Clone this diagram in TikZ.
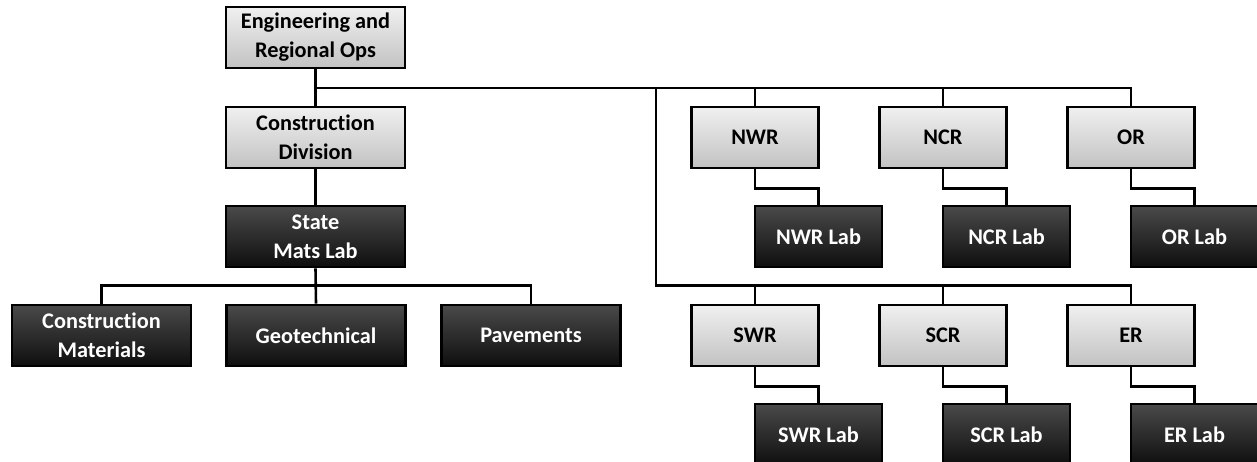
\documentclass[tikz,border=0pt]{standalone}
\usepackage{fontspec}
\setmainfont{Carlito}[Ligatures=NoCommon]
\definecolor{lightTop}{HTML}{F0F0F0}
\definecolor{lightBot}{HTML}{C2C2C2}
\definecolor{darkTop}{HTML}{4A4A4A}
\definecolor{darkBot}{HTML}{0E0E0E}
\begin{document}
\begin{tikzpicture}[x=1pt,y=-1pt,
  box/.style={draw=black, line width=2.6pt, minimum height=61pt, inner sep=0pt,
    align=center, font=\fontsize{22.3}{29}\selectfont\bfseries},
  lightbox/.style={box, top color=lightTop, bottom color=lightBot, text=black},
  darkbox/.style={box, top color=darkTop, bottom color=darkBot, text=white},
  wide/.style={minimum width=179pt},
  narrow/.style={minimum width=127pt},
  conn/.style={draw=black, line width=2.6pt}]
\useasboundingbox (0,0) rectangle (1257,462);
% left column
\node[lightbox,wide] (eng) at (315.5,37.5) {Engineering and\\Regional Ops};
\node[lightbox,wide] (cd) at (315.5,137.5) {Construction\\Division};
\node[darkbox,wide] (sml) at (315.5,236.5) {State\\Mats Lab};
\node[darkbox,wide] (cm) at (101.5,335.5) {Construction\\Materials};
\node[darkbox,wide] (geo) at (316,335.5) {Geotechnical};
\node[darkbox,wide] (pav) at (531,335.5) {Pavements};
% regions
\node[lightbox,narrow] (nwr) at (755,137.5) {NWR};
\node[lightbox,narrow] (ncr) at (943,137.5) {NCR};
\node[lightbox,narrow] (or) at (1131,137.5) {OR};
\node[darkbox,narrow] (nwrlab) at (818.5,236.5) {NWR Lab};
\node[darkbox,narrow] (ncrlab) at (1006.5,236.5) {NCR Lab};
\node[darkbox,narrow] (orlab) at (1194.5,236.5) {OR Lab};
\node[lightbox,narrow] (swr) at (755,335.5) {SWR};
\node[lightbox,narrow] (scr) at (943,335.5) {SCR};
\node[lightbox,narrow] (er) at (1131,335.5) {ER};
\node[darkbox,narrow] (swrlab) at (818.5,434.5) {SWR Lab};
\node[darkbox,narrow] (scrlab) at (1006.5,434.5) {SCR Lab};
\node[darkbox,narrow] (erlab) at (1194.5,434.5) {ER Lab};
% bus coordinates
\coordinate (bus) at (656,88);
\coordinate (bus2) at (656,285.5);
\coordinate (sbus) at (316,285.5);
% connectors
\draw[conn] (eng.south) -- (cd.north);
\draw[conn] (cd.south) -- (sml.north);
\draw[conn] (sml.south) -- (geo.north);
\draw[conn] (cm.north) -- (cm.north |- sbus) -- (pav.north |- sbus) -- (pav.north);
\draw[conn] (eng.south |- bus) -| (or.north);
\draw[conn] (bus -| nwr.north) -- (nwr.north);
\draw[conn] (bus -| ncr.north) -- (ncr.north);
\draw[conn] (bus) -- (bus2) -| (er.north);
\draw[conn] (bus2 -| swr.north) -- (swr.north);
\draw[conn] (bus2 -| scr.north) -- (scr.north);
\foreach \p/\l in {nwr/nwrlab, ncr/ncrlab, or/orlab, swr/swrlab, scr/scrlab, er/erlab}{
  \draw[conn] (\p.south) -- ++(0,19) -| (\l.north);
}
\end{tikzpicture}
\end{document}
